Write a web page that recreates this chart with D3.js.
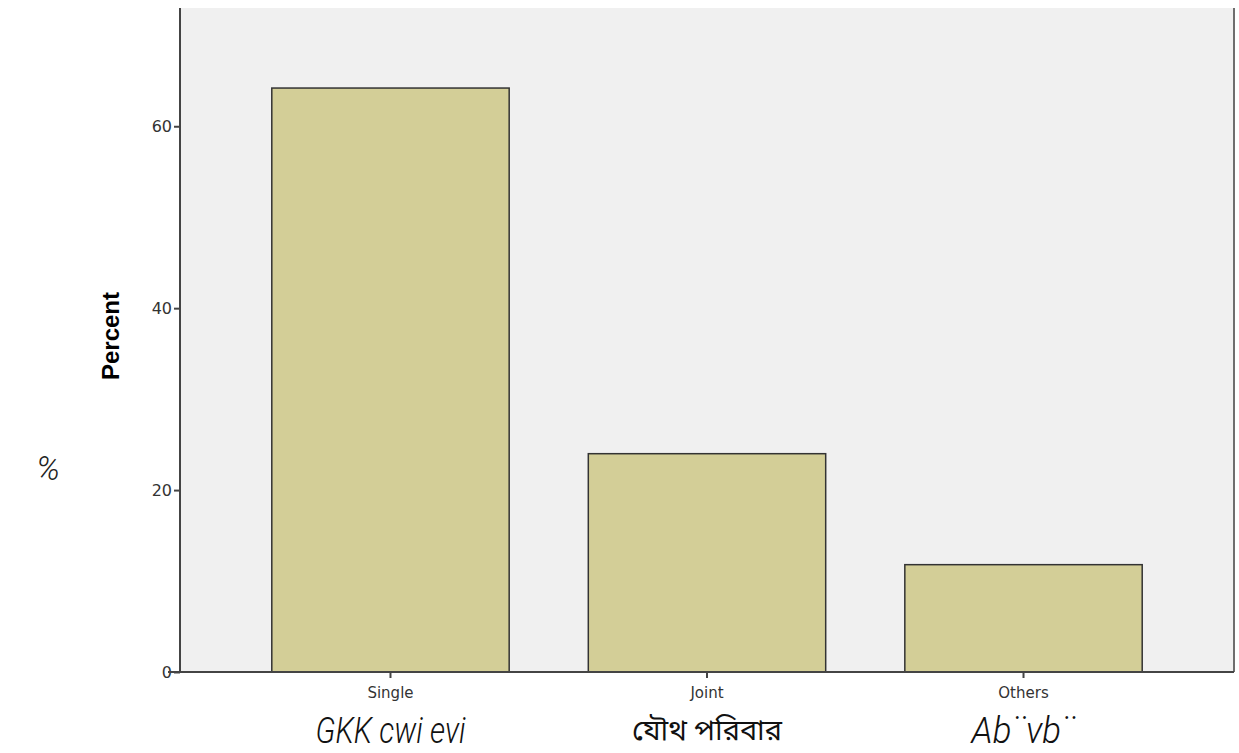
<!DOCTYPE html>
<html>
<head>
<meta charset="utf-8">
<script src="https://cdn.jsdelivr.net/npm/d3@7"></script>
<style>
  body { margin: 0; background: #fff; }
  svg { display: block; }
</style>
</head>
<body>
<svg width="1239" height="753"></svg>
<script>
const categories = ["Single", "Joint", "Others"];
const subLabels = ["GKK cwi evi", "যৌথ পরিবার", "Ab¨vb¨"];
const percents = [64.2, 24.0, 11.8];
const yTicks = [0, 20, 40, 60];

// display widths of the second label row (style only)
const subWidths = [150, 150, 104];

const svg = d3.select("svg");
const margin = { left: 180, right: 5, top: 8, bottom: 81 };
const width = 1239, height = 753;
const plotBottom = height - margin.bottom;

const x = d3.scaleBand()
    .domain(categories)
    .range([margin.left, width - margin.right])
    .paddingInner(0.25)
    .paddingOuter(0.29);

const y = d3.scaleLinear()
    .domain([0, 73])
    .range([plotBottom, margin.top]);

// plot background
svg.append("rect")
    .attr("x", margin.left)
    .attr("y", margin.top)
    .attr("width", width - margin.right - margin.left)
    .attr("height", plotBottom - margin.top)
    .attr("fill", "#f0f0f0");

// right frame line
svg.append("line")
    .attr("x1", width - margin.right).attr("x2", width - margin.right)
    .attr("y1", margin.top).attr("y2", plotBottom)
    .attr("stroke", "#6e6e6e")
    .attr("stroke-width", 2);

svg.selectAll("rect.bar")
    .data(percents)
    .join("rect")
    .attr("class", "bar")
    .attr("x", (d, i) => x(categories[i]))
    .attr("y", d => y(d))
    .attr("width", x.bandwidth())
    .attr("height", d => plotBottom - y(d))
    .attr("fill", "#d3ce97")
    .attr("stroke", "#333")
    .attr("stroke-width", 1.5);

const yAxis = svg.append("g")
    .attr("transform", `translate(${margin.left},0)`)
    .call(d3.axisLeft(y).tickValues(yTicks).tickSize(6).tickPadding(2));
yAxis.select(".domain").attr("stroke", "#444").attr("stroke-width", 2)
    .attr("d", `M0,${margin.top}V${plotBottom}`);
yAxis.selectAll(".tick line").attr("stroke", "#444").attr("stroke-width", 2);
yAxis.selectAll(".tick text")
    .attr("font-family", "DejaVu Sans, sans-serif")
    .attr("font-size", 16)
    .attr("fill", "#333");

const xAxis = svg.append("g")
    .attr("transform", `translate(0,${plotBottom})`)
    .call(d3.axisBottom(x).tickSize(6).tickPadding(9));
xAxis.select(".domain").attr("stroke", "#444").attr("stroke-width", 2)
    .attr("d", `M${margin.left - 12},0H${width - margin.right}`);
xAxis.selectAll(".tick line").attr("stroke", "#444").attr("stroke-width", 2);
xAxis.selectAll(".tick text")
    .attr("font-family", "DejaVu Sans, sans-serif")
    .attr("font-size", 15)
    .attr("fill", "#333");

// second label row
svg.selectAll("text.sub")
    .data(subLabels)
    .join("text")
    .attr("class", "sub")
    .attr("x", (d, i) => x(categories[i]) + x.bandwidth() / 2 - subWidths[i] / 2)
    .attr("y", (d, i) => i === 1 ? 740 : 743)
    .attr("font-family", (d, i) => i === 1 ? "Noto Sans Bengali, sans-serif" : "Roboto, sans-serif")
    .attr("font-style", (d, i) => i === 1 ? "normal" : "italic")
    .attr("font-weight", (d, i) => i === 1 ? 400 : 300)
    .attr("font-size", (d, i) => i === 1 ? 29 : 36)
    .attr("fill", "#111")
    .attr("textLength", (d, i) => subWidths[i])
    .attr("lengthAdjust", "spacingAndGlyphs")
    .text(d => d);

svg.append("text")
    .attr("transform", `translate(119,336) rotate(-90)`)
    .attr("text-anchor", "middle")
    .attr("font-family", "Liberation Sans, Arial, sans-serif")
    .attr("font-weight", "bold")
    .attr("font-size", 24)
    .attr("fill", "#000")
    .text("Percent");

svg.append("text")
    .attr("x", 48)
    .attr("y", 480)
    .attr("text-anchor", "middle")
    .attr("font-family", "Roboto, sans-serif")
    .attr("font-weight", 300)
    .attr("font-style", "italic")
    .attr("font-size", 33)
    .attr("fill", "#222")
    .text("%");
</script>
</body>
</html>
